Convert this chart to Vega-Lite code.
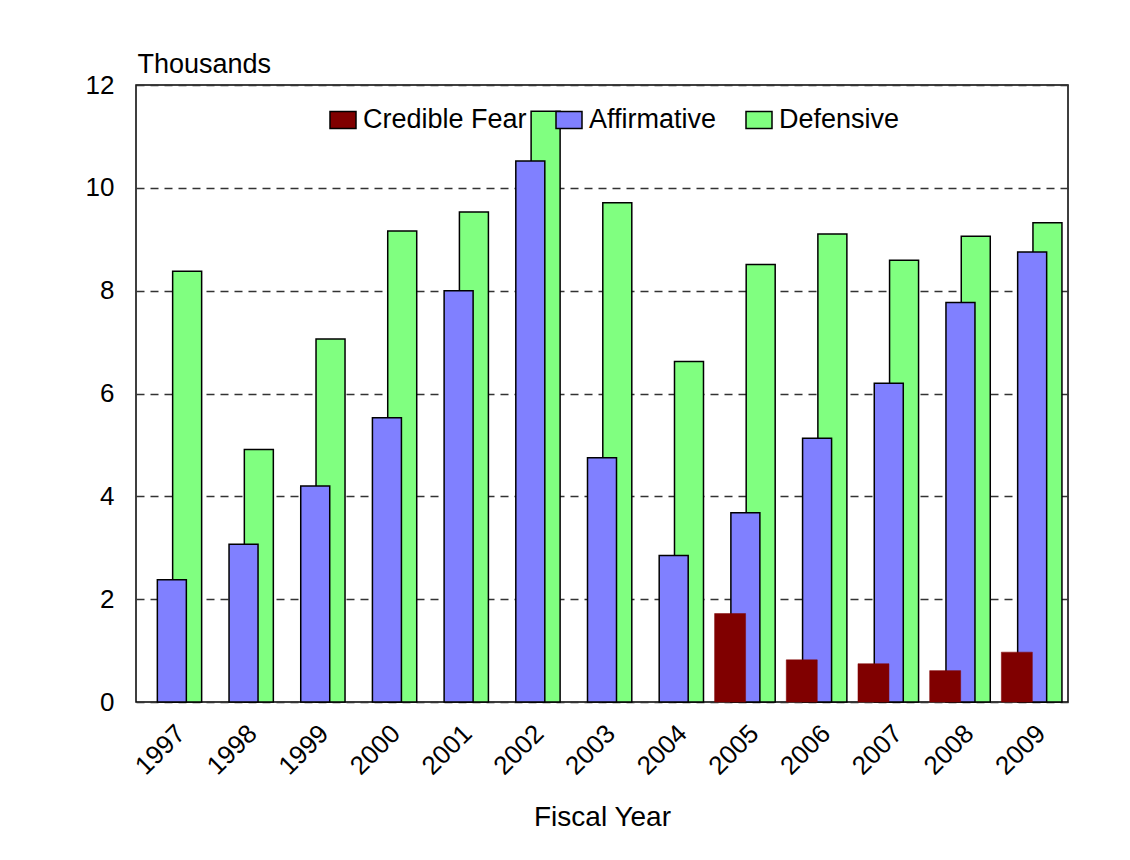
{
  "$schema": "https://vega.github.io/schema/vega-lite/v6.json",
  "autosize": {"type": "none"},
  "padding": {"left": 136, "top": 85, "right": 62, "bottom": 158},
  "width": 932,
  "height": 617,
  "background": "white",
  "config": {
    "font": "Liberation Sans",
    "view": {"stroke": "black", "strokeWidth": 1.5},
    "axis": {"labelFont": "Liberation Sans", "titleFont": "Liberation Sans", "labelColor": "black", "titleColor": "black", "titleFontWeight": "normal"},
    "legend": {"labelFont": "Liberation Sans", "labelColor": "black"}
  },
  "data": {
    "values": [
      {"year": "1997", "series": "Affirmative", "value": 2.38},
      {"year": "1997", "series": "Defensive", "value": 8.38},
      {"year": "1998", "series": "Affirmative", "value": 3.07},
      {"year": "1998", "series": "Defensive", "value": 4.91},
      {"year": "1999", "series": "Affirmative", "value": 4.2},
      {"year": "1999", "series": "Defensive", "value": 7.06},
      {"year": "2000", "series": "Affirmative", "value": 5.53},
      {"year": "2000", "series": "Defensive", "value": 9.16},
      {"year": "2001", "series": "Affirmative", "value": 8.0},
      {"year": "2001", "series": "Defensive", "value": 9.53},
      {"year": "2002", "series": "Affirmative", "value": 10.52},
      {"year": "2002", "series": "Defensive", "value": 11.49},
      {"year": "2003", "series": "Affirmative", "value": 4.75},
      {"year": "2003", "series": "Defensive", "value": 9.71},
      {"year": "2004", "series": "Affirmative", "value": 2.85},
      {"year": "2004", "series": "Defensive", "value": 6.62},
      {"year": "2005", "series": "Credible Fear", "value": 1.72},
      {"year": "2005", "series": "Affirmative", "value": 3.68},
      {"year": "2005", "series": "Defensive", "value": 8.51},
      {"year": "2006", "series": "Credible Fear", "value": 0.82},
      {"year": "2006", "series": "Affirmative", "value": 5.13},
      {"year": "2006", "series": "Defensive", "value": 9.1},
      {"year": "2007", "series": "Credible Fear", "value": 0.745},
      {"year": "2007", "series": "Affirmative", "value": 6.2},
      {"year": "2007", "series": "Defensive", "value": 8.59},
      {"year": "2008", "series": "Credible Fear", "value": 0.61},
      {"year": "2008", "series": "Affirmative", "value": 7.77},
      {"year": "2008", "series": "Defensive", "value": 9.06},
      {"year": "2009", "series": "Credible Fear", "value": 0.97},
      {"year": "2009", "series": "Affirmative", "value": 8.75},
      {"year": "2009", "series": "Defensive", "value": 9.32}
    ]
  },
  "encoding": {
    "x": {
      "field": "year", "type": "ordinal",
      "scale": {"paddingInner": 0, "paddingOuter": 0},
      "axis": {
        "title": "Fiscal Year", "titleFontSize": 28, "titlePadding": 24,
        "labelAngle": -45, "labelFontSize": 26, "labelPadding": 18,
        "ticks": false, "domain": false, "grid": false
      }
    },
    "y": {
      "field": "value", "type": "quantitative",
      "scale": {"domain": [0, 12], "nice": false},
      "axis": {
        "values": [0, 2, 4, 6, 8, 10, 12],
        "labelFontSize": 26, "labelPadding": 22, "ticks": false, "domain": false,
        "grid": true, "gridDash": [8, 6], "gridColor": "#333333", "gridWidth": 1.4,
        "title": "Thousands", "titleFontSize": 27, "titleAngle": 0,
        "titleAlign": "left", "titleBaseline": "alphabetic", "titleX": 1, "titleY": -13
      }
    },
    "color": {
      "field": "series", "type": "nominal",
      "scale": {"domain": ["Credible Fear", "Affirmative", "Defensive"], "range": ["#800000", "#8080FF", "#80FF80"]},
      "legend": {
        "title": null, "orient": "none", "direction": "horizontal",
        "legendX": 193, "legendY": 21, "gridAlign": "none",
        "labelFontSize": 27, "labelOffset": 6, "columnPadding": 26, "labelLimit": 400,
        "symbolType": "M-1,-0.65H1V0.65H-1Z", "symbolSize": 676,
        "symbolStrokeColor": "black", "symbolStrokeWidth": 1.5, "symbolOpacity": 1
      }
    }
  },
  "layer": [
    {
      "transform": [{"filter": "datum.series === 'Defensive'"}],
      "mark": {"type": "bar", "width": 29, "xOffset": 15.3, "stroke": "black", "strokeWidth": 1.5, "opacity": 1}
    },
    {
      "transform": [{"filter": "datum.series === 'Affirmative'"}],
      "mark": {"type": "bar", "width": 29, "xOffset": 0, "stroke": "black", "strokeWidth": 1.5, "opacity": 1}
    },
    {
      "transform": [{"filter": "datum.series === 'Credible Fear'"}],
      "mark": {"type": "bar", "width": 31, "xOffset": -15.3, "stroke": "#800000", "strokeWidth": 0.5, "opacity": 1}
    }
  ]
}
